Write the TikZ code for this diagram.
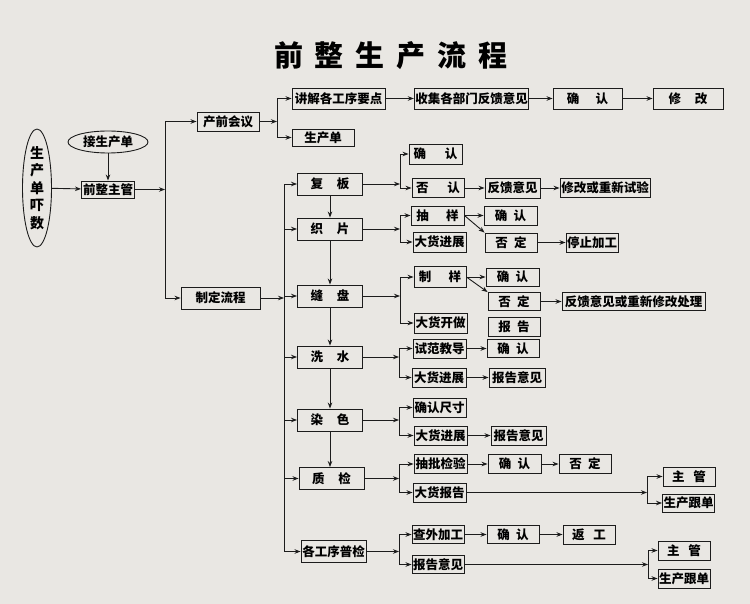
\documentclass[tikz,border=0pt]{standalone}
\usepackage{fontspec}
\setmainfont{Noto Sans CJK SC}
\usetikzlibrary{shapes.geometric,arrows.meta}
\definecolor{fondo}{RGB}{233,231,227}
\definecolor{trazo}{RGB}{28,28,28}

\begin{document}
\begin{tikzpicture}[
    x=1pt, y=-1pt,
    bloque/.style={draw=trazo, line width=0.9pt, minimum width=53pt, minimum height=19pt, inner sep=1pt, font=\fontsize{12.5}{14}\selectfont\bfseries},
    paso/.style={bloque, minimum width=65pt, minimum height=22pt},
    ovalo/.style={draw=trazo, line width=0.9pt, ellipse, inner sep=0pt},
    linea/.style={line width=0.9pt, draw=trazo},
    flecha/.style={linea, -{Stealth[length=6pt,width=4.5pt]}}
]
    % --- FONDO Y TITULO ---
    \fill[fondo] (0,0) rectangle (750,604);
    \node[font=\fontsize{29}{32}\selectfont\bfseries] (tit) at (391,56) {前\hspace{12pt}整\hspace{12pt}生\hspace{12pt}产\hspace{12pt}流\hspace{12pt}程};

    % --- ENTRADA ---
    \node[ovalo, minimum width=29pt, minimum height=116pt, align=center, font=\fontsize{14}{17.5}\selectfont\bfseries] (sd) at (37,188) {生\\产\\单\\吓\\数};
    \node[ovalo, minimum width=80pt, minimum height=22pt, font=\fontsize{12.5}{14}\selectfont\bfseries] (jsd) at (108,142) {接生产单};
    \node[bloque, minimum height=17pt] (zg) at (108,189.5) {前整主管};
    \draw[flecha] (sd) -- (zg);
    \draw[flecha] (jsd) -- (zg);

    % --- DIVISION: PRODUCCION PREVIA / FLUJO ---
    \coordinate (r1) at (165,189.5);
    \node[bloque, minimum width=62pt] (cqhy) at (228,121.5) {产前会议};
    \node[bloque, minimum width=79pt, minimum height=22pt] (zdlc) at (220.5,298) {制定流程};
    \draw[flecha] (zg) -- (r1);
    \draw[flecha] (r1) |- (cqhy);
    \draw[flecha] (r1) |- (zdlc);

    % --- REUNION PREVIA ---
    \coordinate (r2) at (277,121.5);
    \node[bloque, minimum width=93pt, minimum height=21pt] (jj) at (338.5,98.5) {讲解各工序要点};
    \node[bloque, minimum width=62pt, minimum height=17pt] (scd) at (323,137.5) {生产单};
    \node[bloque, minimum width=111pt, minimum height=21pt] (sj) at (471.5,98.5) {收集各部门反馈意见};
    \node[bloque, minimum width=69pt, minimum height=21pt] (qr0) at (587.5,98.5) {确\hspace{1.3em}认};
    \node[bloque, minimum width=70pt, minimum height=21pt] (xg) at (688,98.5) {修\hspace{1.1em}改};
    \draw[flecha] (cqhy) -- (r2);
    \draw[flecha] (r2) |- (jj);
    \draw[flecha] (r2) |- (scd);
    \draw[flecha] (jj) -- (sj);
    \draw[flecha] (sj) -- (qr0);
    \draw[flecha] (qr0) -- (xg);

    % --- PASOS DEL FLUJO ---
    \coordinate (r3) at (284,298);
    \node[paso] (fb) at (330,184) {复\hspace{1.1em}板};
    \node[paso] (zp) at (330,229) {织\hspace{1.1em}片};
    \node[paso] (fp) at (330,296) {缝\hspace{1.1em}盘};
    \node[paso] (xs) at (330,357) {洗\hspace{1.1em}水};
    \node[paso] (rs) at (330,420) {染\hspace{1.1em}色};
    \node[paso] (zj) at (331.5,478.5) {质\hspace{1.1em}检};
    \node[paso] (pj) at (333.5,551.5) {各工序普检};
    \draw[flecha] (zdlc) -- (r3);
    \foreach \p in {fb,zp,fp,xs,rs,zj,pj}
        \draw[flecha] (r3) |- (\p);
    \draw[flecha] (fb) -- (zp);
    \draw[flecha] (zp) -- (fp);
    \draw[flecha] (fp) -- (xs);
    \draw[flecha] (xs) -- (rs);
    \draw[flecha] (rs.south) -- (rs.south|-zj.north);

    % --- RAMA: FU BAN ---
    \coordinate (k1) at (400,184);
    \node[bloque, minimum height=20pt] (qr1) at (435.5,154) {确\hspace{1.5em}认};
    \node[bloque, minimum width=52pt] (fr) at (438,188) {否\hspace{1.5em}认};
    \node[bloque, minimum width=55pt, minimum height=20pt] (fk) at (512.5,188) {反馈意见};
    \node[bloque, minimum width=90pt] (xgsy) at (605,188) {修改或重新试验};
    \draw[flecha] (fb) -- (k1);
    \draw[flecha] (k1) |- (qr1);
    \draw[flecha] (k1) |- (fr);
    \draw[flecha] (fr) -- (fk);
    \draw[flecha] (fk) -- (xgsy);

    % --- RAMA: ZHI PIAN ---
    \coordinate (k2) at (400,229);
    \node[bloque] (cy) at (437.5,215.5) {抽\hspace{1.4em}样};
    \node[bloque, minimum height=20pt] (dh1) at (439.5,242) {大货进展};
    \node[bloque] (qr2) at (510.5,215.5) {确\hspace{0.5em}认};
    \node[bloque, minimum width=52pt] (fd1) at (511,242.5) {否\hspace{0.5em}定};
    \node[bloque, minimum width=52pt] (tz) at (592,242.5) {停止加工};
    \draw[flecha] (zp) -- (k2);
    \draw[flecha] (k2) |- (cy);
    \draw[flecha] (k2) |- (dh1);
    \draw[flecha] (cy) -- (qr2);
    \draw[flecha] (cy.east) -- (fd1.north west);
    \draw[flecha] (fd1) -- (tz);

    % --- RAMA: FENG PAN ---
    \coordinate (k3) at (400,296);
    \node[bloque, minimum width=52pt, minimum height=21pt] (zy) at (440,277) {制\hspace{1.4em}样};
    \node[bloque, minimum height=20pt] (dhk) at (440.5,323) {大货开做};
    \node[bloque, minimum height=18pt] (qr3) at (512.5,277) {确\hspace{0.5em}认};
    \node[bloque, minimum width=52pt, minimum height=18pt] (fd2) at (514,301.5) {否\hspace{0.5em}定};
    \node[bloque, minimum width=52pt] (bg) at (514,326.5) {报\hspace{0.5em}告};
    \node[bloque, minimum width=143pt, minimum height=18pt] (fkcx) at (633.5,301.5) {反馈意见或重新修改处理};
    \draw[flecha] (fp) -- (k3);
    \draw[flecha] (k3) |- (zy);
    \draw[flecha] (k3) |- (dhk);
    \draw[flecha] (zy) -- (qr3);
    \draw[flecha] (zy.east) -- (fd2.north west);
    \draw[flecha] (fd2) -- (fkcx);

    % --- RAMA: XI SHUI ---
    \coordinate (k4) at (399,357);
    \node[bloque] (sf) at (439.5,348.5) {试范教导};
    \node[bloque, minimum width=54pt] (dh2) at (439,377.5) {大货进展};
    \node[bloque, minimum width=52pt, minimum height=18pt] (qr4) at (513,348.5) {确\hspace{0.5em}认};
    \node[bloque, minimum width=56pt] (bgyj1) at (517,377.5) {报告意见};
    \draw[flecha] (xs) -- (k4);
    \draw[flecha] (k4) |- (sf);
    \draw[flecha] (k4) |- (dh2);
    \draw[flecha] (sf) -- (qr4);
    \draw[flecha] (dh2) -- (bgyj1);

    % --- RAMA: RAN SE ---
    \coordinate (k5) at (399,420);
    \node[bloque] (qrcc) at (439.5,407.5) {确认尺寸};
    \node[bloque] (dh3) at (440.5,435.5) {大货进展};
    \node[bloque, minimum width=55pt] (bgyj2) at (518.5,435.5) {报告意见};
    \draw[flecha] (rs) -- (k5);
    \draw[flecha] (k5) |- (qrcc);
    \draw[flecha] (k5) |- (dh3);
    \draw[flecha] (dh3) -- (bgyj2);

    % --- RAMA: ZHI JIAN ---
    \coordinate (k6) at (399,478.5);
    \coordinate (k8) at (647,492.5);
    \node[bloque] (cp) at (440.5,464) {抽批检验};
    \node[bloque] (dhbg) at (439.5,492.5) {大货报告};
    \node[bloque] (qr5) at (514.5,464) {确\hspace{0.5em}认};
    \node[bloque, minimum width=52pt] (fd3) at (585,464) {否\hspace{0.5em}定};
    \node[bloque, minimum width=52pt] (zg1) at (689,476.5) {主\hspace{0.7em}管};
    \node[bloque, minimum width=51pt, minimum height=18pt] (gd1) at (688.5,503) {生产跟单};
    \draw[flecha] (zj) -- (k6);
    \draw[flecha] (k6) |- (cp);
    \draw[flecha] (k6) |- (dhbg);
    \draw[flecha] (cp) -- (qr5);
    \draw[flecha] (qr5) -- (fd3);
    \draw[flecha] (dhbg) -- (k8);
    \draw[flecha] (k8) |- (zg1);
    \draw[flecha] (k8) |- (gd1);

    % --- RAMA: INSPECCION GENERAL ---
    \coordinate (k7) at (399,551.5);
    \coordinate (k9) at (648,564.5);
    \node[bloque, minimum width=52pt, minimum height=18pt] (cw) at (438,534.5) {查外加工};
    \node[bloque, minimum width=52pt, minimum height=18pt] (bgyj3) at (438,564.5) {报告意见};
    \node[bloque, minimum width=52pt, minimum height=18pt] (qr6) at (513,534.5) {确\hspace{0.5em}认};
    \node[bloque, minimum width=52pt] (fg) at (589,534.5) {返\hspace{0.7em}工};
    \node[bloque, minimum width=52pt] (zg2) at (684,550.5) {主\hspace{0.7em}管};
    \node[bloque, minimum width=52pt] (gd2) at (684,578.5) {生产跟单};
    \draw[flecha] (pj) -- (k7);
    \draw[flecha] (k7) |- (cw);
    \draw[flecha] (k7) |- (bgyj3);
    \draw[flecha] (cw) -- (qr6);
    \draw[flecha] (qr6) -- (fg);
    \draw[flecha] (bgyj3) -- (k9);
    \draw[flecha] (k9) |- (zg2);
    \draw[flecha] (k9) |- (gd2);
\end{tikzpicture}
\end{document}
